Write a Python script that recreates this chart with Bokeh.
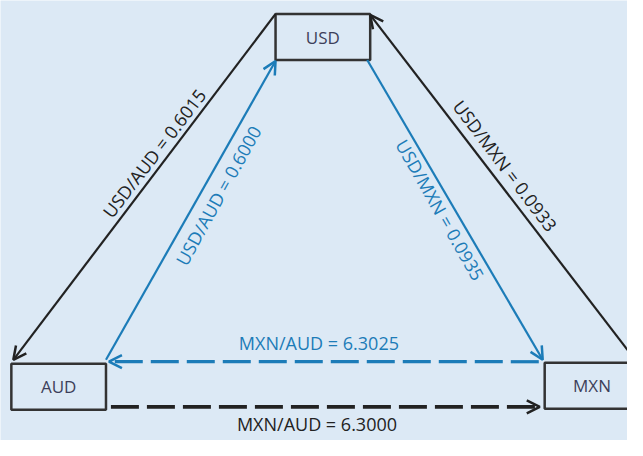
import math
from bokeh.plotting import figure
from bokeh.models import Arrow, OpenHead, ColumnDataSource
from bokeh.core.properties import value
from bokeh.embed import file_html
from bokeh.resources import INLINE

# ---- data ----
currencies = ["USD", "AUD", "MXN"]
pairs = ["USD/AUD", "USD/AUD", "USD/MXN", "USD/MXN", "MXN/AUD", "MXN/AUD"]
rates = [0.6015, 0.6000, 0.0933, 0.0935, 6.3025, 6.3000]
quote_kind = ["black", "blue", "black", "blue", "blue", "black"]

# ---- layout (pixel-like coordinates) ----
BG = "#dce9f5"
BLUE = "#1c7cb8"
BLACK = "#222222"
FONT = "Open Sans"

box_w, box_h = 96, 48
box_left = {"USD": 279, "AUD": 11, "MXN": 552}
box_top = {"USD": 14, "AUD": 378, "MXN": 377}

p = figure(width=627, height=440, x_range=(0, 636), y_range=(458, 0),
           output_backend="svg", toolbar_location=None, min_border=0)
p.axis.visible = False
p.grid.visible = False
p.outline_line_color = None
p.background_fill_color = BG
p.border_fill_color = BG

# boxes
bx = [box_left[c] + box_w / 2 for c in currencies]
by = [box_top[c] + box_h / 2 for c in currencies]
p.rect(x=bx, y=by, width=box_w, height=box_h, fill_color=BG,
       line_color="#333333", line_width=2.5)
p.text(x=bx, y=by, text=currencies, text_align="center", text_baseline="middle",
       text_font=value(FONT), text_font_size="17px", text_color="#3c3f5a")

def corner(c, side):
    l, t = box_left[c], box_top[c]
    return {"tl": (l, t), "tr": (l + box_w, t), "bl": (l, t + box_h),
            "br": (l + box_w, t + box_h)}[side]

ux0, uy0 = corner("USD", "tl")
ux1, uy1 = corner("USD", "tr")
ubx0, uby0 = corner("USD", "bl")
ubx1, uby1 = corner("USD", "br")
ax0, ay0 = corner("AUD", "tl")
ax1, ay1 = corner("AUD", "tr")
mx0, my0 = corner("MXN", "tl")
mx1, my1 = corner("MXN", "tr")

# arrows: (start, end, color, width, dash)
arrows = [
    ((ux0, uy0), (ax0 + 2, ay0 - 4), BLACK, 2.2, "solid"),
    ((mx1 - 2, my1), (ux1, uy1 + 1), BLACK, 2.2, "solid"),
    ((ax1, ay1 - 4), (ubx0, uby0 + 1), BLUE, 2.2, "solid"),
    ((ubx1 - 3, uby1), (mx0 - 2, my0 - 3), BLUE, 2.2, "solid"),
    ((mx0 - 6, my0 - 1), (ax1 + 3, my0 - 1), BLUE, 3.2, "28 8"),
    ((ax1 + 5, ay0 + 45), (mx0 - 5, ay0 + 45), BLACK, 3.8, "28 8"),
]
for (s, e, col, lw, dash) in arrows:
    p.add_layout(Arrow(end=OpenHead(size=13, line_color=col, line_width=2.5),
                       x_start=s[0], y_start=s[1], x_end=e[0], y_end=e[1],
                       line_color=col, line_width=lw, line_dash=dash))

# labels
labels = [f"{pr} = {r:.4f}" for pr, r in zip(pairs, rates)]
lx = [156, 221, 512, 446, 323, 321]
ly = [159, 203, 172, 218, 357, 441]
ang_deg = [52.5, 61.0, -52.9, -60.3, 0, 0]
colors = [BLACK if k == "black" else BLUE for k in quote_kind]
src = ColumnDataSource(dict(x=lx, y=ly, text=labels,
                            angle=[math.radians(a) for a in ang_deg], color=colors))
p.text(x="x", y="y", text="text", angle="angle", text_color="color", source=src,
       text_align="center", text_baseline="middle",
       text_font=value(FONT), text_font_size="18px")

open("out.html", "w").write(file_html(p, INLINE))
